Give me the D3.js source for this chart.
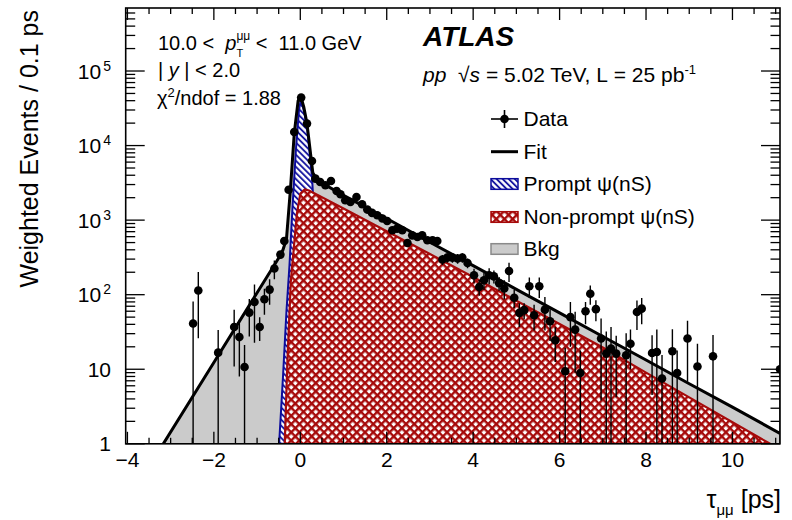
<!DOCTYPE html>
<html>
<head>
<meta charset="utf-8">
<script src="https://cdn.jsdelivr.net/npm/d3@7"></script>
<style>
  body { margin: 0; background: #fff; }
  text { font-family: "Liberation Sans", Arial, Helvetica, sans-serif; fill: #000; }
</style>
</head>
<body>
<script>
// lifetime distribution, 10 < pT < 11 GeV

// data points (tau in ps, weighted events / 0.1 ps, error)
var dataX = [-2.48, -2.36, -1.90, -1.53, -1.41, -1.29, -1.18, -1.06, -0.94, -0.83, -0.71, -0.60, -0.46, -0.37, -0.27, -0.14,
    0.02, 0.155, 0.27, 0.35, 0.46, 0.58, 0.71, 0.84, 0.93, 1.04, 1.16, 1.30, 1.43, 1.55, 1.66, 1.78, 1.90, 2.01, 2.13, 2.24,
    2.36, 2.48, 2.59, 2.71, 2.82, 2.94, 3.06, 3.17, 3.29, 3.40, 3.52, 3.64, 3.75, 3.87, 4.02, 4.14, 4.25, 4.37, 4.48, 4.60,
    4.72, 4.83, 4.95, 5.07, 5.18, 5.30, 5.41, 5.53, 5.66, 5.78, 5.90, 6.13, 6.25, 6.36, 6.48, 6.60, 6.71, 6.84, 6.96, 7.08,
    7.19, 7.31, 7.54, 7.64, 7.79, 7.90, 8.14, 8.25, 8.37, 8.61, 8.72, 8.96, 9.19, 9.55, 11.10];
var dataY = [41, 114, 16.7, 36.9, 27, 10.7, 57.5, 79.7, 36.9, 86.7, 117, 224, 345, 525, 2560, 15200,
    44000, 19700, 6200, 3600, 3250, 2930, 3350, 2460, 2220, 1845, 1750, 2040, 1630, 1385, 1250, 1160, 1050, 973, 730, 770,
    730, 493, 625, 594, 625, 536, 536, 525, 296, 314, 314, 305, 314, 266, 182, 127, 156, 182, 176, 143,
    121, 208, 91, 57, 62, 130, 53, 130, 63, 44, 24.5, 9.4, 50, 34, 8.9, 60, 103, 64, 25.8, 16.2,
    18.9, 16.2, 15.4, 22, 58.6, 65, 16.5, 17, 7.5, 17.4, 8.9, 25.8, 10.9, 14.9, 10];
var dataErr = [40, 88, 17, 26, 19, 10.5, 30, 57, 13, 33, 44, 63, 40, 45, 110, 270,
    450, 300, 170, 130, 120, 115, 120, 105, 100, 90, 90, 95, 85, 80, 75, 75, 70, 68, 60, 60,
    60, 50, 55, 55, 55, 50, 50, 50, 45, 45, 45, 45, 45, 40, 40, 30, 40, 45, 35, 30,
    35, 60, 25, 20, 15, 40, 20, 40, 30, 20, 12, 10, 30, 25, 9, 20, 30, 20, 22, 16,
    18, 12, 15, 12, 25, 25, 12, 17, 8, 17, 9, 19, 11, 14, 10];

// total fit
var fitX = [-3.17, -2.0, -1.0, -0.5, -0.4, -0.32, -0.23, -0.14, -0.05, 0.01, 0.08, 0.155, 0.29, 0.4,
    1, 2, 3, 4, 5, 6, 7, 8, 9, 10, 11.1];
var fitY = [1, 12.3, 106, 310, 400, 560, 2500, 14500, 40000, 46000, 33000, 19700, 4300, 3400,
    2150, 1050, 505, 245, 118, 57, 27.5, 13.3, 6.4, 3.1, 1.38];

// prompt component
var promptX = [-0.49, -0.40, -0.32, -0.25, -0.18, -0.10, -0.03, 0.01, 0.08, 0.16, 0.27, 0.35, 0.42, 0.50];
var promptY = [1, 8, 60, 250, 1500, 9000, 30000, 40000, 30000, 17000, 3800, 600, 50, 1];

// non-prompt component
var nonpromptX = [-0.36, -0.30, -0.22, -0.155, -0.08, 0.0, 0.1, 0.2, 1, 2, 3, 4, 5, 6, 7, 8, 9, 10, 10.87];
var nonpromptY = [1, 12, 150, 390, 1200, 2250, 2580, 2500, 1435, 708, 351, 173, 83, 40.5, 19.6, 9.0, 4.2, 1.95, 1];

var xTickLabels = ["\u22124", "\u22122", "0", "2", "4", "6", "8", "10"];
var yTickLabels = ["1", "10", "10^2", "10^3", "10^4", "10^5"];

var legendLabels = ["Data", "Fit", "Prompt \u03c8(nS)", "Non-prompt \u03c8(nS)", "Bkg"];

var width = 792, height = 520;
var red = "#a60a0a", blue = "#0c0c9c", grey = "#cbcbcb";

var x = d3.scaleLinear().domain([-4.04, 11.1]).range([125.7, 780]);
var y = d3.scaleLog().domain([1, 7e5]).range([443.8, 8]);

var svg = d3.select("body").append("svg")
    .attr("width", width)
    .attr("height", height);

var defs = svg.append("defs");

defs.append("clipPath").attr("id", "frame")
    .append("rect")
    .attr("x", x.range()[0]).attr("y", y.range()[1])
    .attr("width", x.range()[1] - x.range()[0])
    .attr("height", y.range()[0] - y.range()[1]);

// blue single hatch
var hb = defs.append("pattern").attr("id", "hatchBlue")
    .attr("patternUnits", "userSpaceOnUse")
    .attr("width", 4.3).attr("height", 4.3)
    .attr("patternTransform", "rotate(-45)");
hb.append("rect").attr("width", 4.3).attr("height", 4.3).attr("fill", "#fff");
hb.append("line").attr("x1", 1).attr("y1", 0).attr("x2", 1).attr("y2", 4.3)
    .attr("stroke", blue).attr("stroke-width", 1.8);

// red cross hatch: two sets of diagonal lines
var hr = defs.append("pattern").attr("id", "hatchRed")
    .attr("patternUnits", "userSpaceOnUse")
    .attr("width", 5.8).attr("height", 5.8)
    .attr("patternTransform", "rotate(45)");
hr.append("rect").attr("width", 5.8).attr("height", 5.8).attr("fill", "#fff");
hr.append("rect").attr("x", 0).attr("y", 0).attr("width", 2.4).attr("height", 5.8).attr("fill", red);
hr.append("rect").attr("x", 0).attr("y", 0).attr("width", 5.8).attr("height", 2.4).attr("fill", red);

var plot = svg.append("g").attr("clip-path", "url(#frame)");

function pts(xs, ys) {
    return xs.map(function(d, i) { return [d, ys[i]]; });
}

var area = d3.area()
    .x(function(d) { return x(d[0]); })
    .y0(y(1))
    .y1(function(d) { return y(d[1]); });

var line = d3.line()
    .x(function(d) { return x(d[0]); })
    .y(function(d) { return y(d[1]); });

// background (under total fit)
plot.append("path")
    .attr("d", area(pts(fitX, fitY)))
    .attr("fill", grey);

// prompt
plot.append("path")
    .attr("d", area(pts(promptX, promptY)))
    .attr("fill", "url(#hatchBlue)")
    .attr("stroke", blue)
    .attr("stroke-width", 2);

// non-prompt
plot.append("path")
    .attr("d", area(pts(nonpromptX, nonpromptY)))
    .attr("fill", "url(#hatchRed)")
    .attr("stroke", red)
    .attr("stroke-width", 2.2)
    .attr("stroke-linejoin", "round");

// fit line
plot.append("path")
    .attr("d", line(pts(fitX, fitY)))
    .attr("fill", "none")
    .attr("stroke", "#000")
    .attr("stroke-width", 3)
    .attr("stroke-linejoin", "round");

// data
var points = pts(dataX, dataY).map(function(d, i) { return { x: d[0], y: d[1], e: dataErr[i] }; });

plot.append("g").selectAll("line")
    .data(points)
    .enter()
    .append("line")
    .attr("x1", function(d) { return x(d.x); })
    .attr("x2", function(d) { return x(d.x); })
    .attr("y1", function(d) { return y(d.y + d.e); })
    .attr("y2", function(d) { return y(Math.max(d.y - d.e, 0.01)); })
    .attr("stroke", "#000")
    .attr("stroke-width", 1.4);

plot.append("g").selectAll("circle")
    .data(points)
    .enter()
    .append("circle")
    .attr("cx", function(d) { return x(d.x); })
    .attr("cy", function(d) { return y(d.y); })
    .attr("r", 4.3)
    .attr("fill", "#000");

// frame and ticks (ROOT style: inside, all four sides)
var x0 = x.range()[0], x1 = x.range()[1], yb = y.range()[0], yt = y.range()[1];
var axes = svg.append("g").attr("stroke", "#000").attr("stroke-width", 1.3);

var xMajor = d3.range(-4, 10.01, 2);
var xMinor = d3.range(-4, 11.1, 0.5).filter(function(v) { return xMajor.indexOf(v) < 0; });
var yMajor = [1, 10, 100, 1000, 10000, 100000];
var yMinor = [];
yMajor.forEach(function(d) {
    for (var k = 2; k <= 9; k++) { if (d * k < 7e5) yMinor.push(d * k); }
});

function xTicks(vals, len) {
    vals.forEach(function(v) {
        axes.append("line").attr("x1", x(v)).attr("x2", x(v)).attr("y1", yb).attr("y2", yb - len);
        axes.append("line").attr("x1", x(v)).attr("x2", x(v)).attr("y1", yt).attr("y2", yt + len);
    });
}
function yTicks(vals, len) {
    vals.forEach(function(v) {
        axes.append("line").attr("x1", x0).attr("x2", x0 + len).attr("y1", y(v)).attr("y2", y(v));
        axes.append("line").attr("x1", x1).attr("x2", x1 - len).attr("y1", y(v)).attr("y2", y(v));
    });
}
xTicks(xMajor, 12);
xTicks(xMinor, 6);
yTicks(yMajor, 19);
yTicks(yMinor, 9.5);

svg.append("rect")
    .attr("x", x0).attr("y", yt)
    .attr("width", x1 - x0).attr("height", yb - yt)
    .attr("fill", "none").attr("stroke", "#000").attr("stroke-width", 1.6);

// tick labels
svg.append("g").selectAll("text")
    .data(xMajor)
    .enter()
    .append("text")
    .attr("x", function(d) { return x(d); })
    .attr("y", yb + 23)
    .attr("text-anchor", "middle")
    .attr("font-size", 21)
    .text(function(d, i) { return xTickLabels[i]; });

yMajor.forEach(function(v, i) {
    var parts = yTickLabels[i].split("^");
    var t = svg.append("text")
        .attr("x", 111)
        .attr("y", y(v) + 7.5)
        .attr("text-anchor", "end")
        .attr("font-size", 21);
    t.append("tspan").text(parts[0]);
    if (parts.length > 1) {
        t.append("tspan").attr("dx", 2).attr("dy", -8).attr("font-size", 14).text(parts[1]);
    }
});

// text made of pieces (super/subscripts)
function rich(parent, x, y, size, parts) {
    var cx = x, prevX = x;
    parts.forEach(function(p) {
        var start = p.stack ? prevX : cx + (p.dx || 0);
        var t = parent.append("text")
            .attr("x", start)
            .attr("y", y + (p.dy || 0))
            .attr("font-size", p.size || size)
            .attr("font-style", p.it ? "italic" : null)
            .attr("font-weight", p.bold ? "bold" : null)
            .text(p.t);
        var w = t.node().getComputedTextLength();
        if (p.stack) { cx = Math.max(cx, start + w); }
        else { prevX = start; cx = start + w; }
    });
    return cx;
}

var S = "\u00a0";

// axis titles
svg.append("text")
    .attr("transform", "translate(38,10) rotate(-90)")
    .attr("text-anchor", "end")
    .attr("font-size", 25)
    .text("Weighted Events / 0.1 ps");

var xt = svg.append("g");
rich(xt, 0, 0, 25, [
    { t: "\u03c4" },
    { t: "\u03bc\u03bc", size: 15, dy: 7 },
    { t: S + "[ps]" }
]);
var bb = xt.node().getBBox();
xt.attr("transform", "translate(" + (781 - bb.x - bb.width) + ",508)");

// labels
rich(svg, 158, 50, 20, [
    { t: "10.0" + S + "<" + S + S },
    { t: "p", it: true },
    { t: "\u03bc\u03bc", size: 12, dy: -10 },
    { t: "T", size: 11, dy: 7, stack: true },
    { t: S + "<" + S + S + "11.0" + S + "GeV" }
]);
rich(svg, 158, 77, 20, [
    { t: "|" + S },
    { t: "y", it: true },
    { t: S + "|" + S + "<" + S + "2.0" }
]);
rich(svg, 157, 105, 20, [
    { t: "\u03c7" },
    { t: "2", size: 13, dy: -8 },
    { t: "/ndof = 1.88" }
]);

svg.append("text")
    .attr("x", 423).attr("y", 46)
    .attr("font-size", 28)
    .attr("font-weight", "bold")
    .attr("font-style", "italic")
    .text("ATLAS");

rich(svg, 423, 81.5, 21, [
    { t: "pp", it: true },
    { t: S + S + "\u221a" },
    { t: "s", it: true },
    { t: S + "=" + S + "5.02 TeV, L" + S + "=" + S + "25 pb" },
    { t: "-1", size: 13, dy: -8 }
]);

// legend
var legY = [119, 151.7, 184, 217, 249];
var lx0 = 491, lx1 = 518;
var leg = svg.append("g");

leg.append("line").attr("x1", lx0).attr("x2", lx1).attr("y1", legY[0]).attr("y2", legY[0])
    .attr("stroke", "#000").attr("stroke-width", 1.6);
leg.append("line").attr("x1", (lx0 + lx1) / 2).attr("x2", (lx0 + lx1) / 2)
    .attr("y1", legY[0] - 9).attr("y2", legY[0] + 9)
    .attr("stroke", "#000").attr("stroke-width", 1.6);
leg.append("circle").attr("cx", (lx0 + lx1) / 2).attr("cy", legY[0]).attr("r", 4.3).attr("fill", "#000");

leg.append("line").attr("x1", lx0).attr("x2", lx1).attr("y1", legY[1]).attr("y2", legY[1])
    .attr("stroke", "#000").attr("stroke-width", 3);

var boxes = [
    { fill: "url(#hatchBlue)", stroke: blue },
    { fill: "url(#hatchRed)", stroke: red },
    { fill: grey, stroke: "#8a8a8a" }
];
boxes.forEach(function(b, i) {
    leg.append("rect")
        .attr("x", lx0).attr("y", legY[i + 2] - 5.3)
        .attr("width", lx1 - lx0).attr("height", 10.6)
        .attr("fill", b.fill).attr("stroke", b.stroke).attr("stroke-width", 1.5);
});

leg.selectAll("text")
    .data(legendLabels)
    .enter()
    .append("text")
    .attr("x", 523.5)
    .attr("y", function(d, i) { return legY[i] + 7.4; })
    .attr("font-size", 21)
    .text(function(d) { return d; });
</script>
</body>
</html>
